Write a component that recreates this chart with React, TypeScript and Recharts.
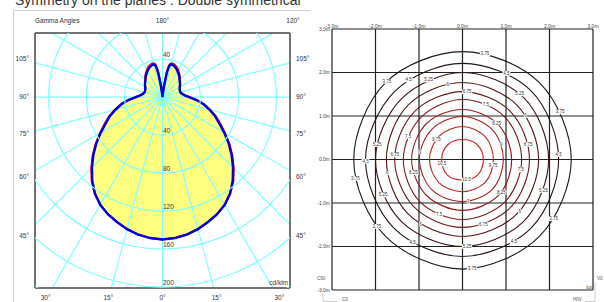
import React from "react";
import {
  ComposedChart, XAxis, YAxis, Area, Line, Scatter, ReferenceDot, ReferenceLine, CartesianGrid,
} from "recharts";

const FONT = "'Liberation Sans', Arial, Helvetica, sans-serif";

// ---- polar intensity diagram, cd/klm ----
const gammaAngles = [0, 5, 10, 15, 20, 25, 30, 35, 40, 45, 50, 55, 60, 65, 70, 75, 80, 85, 90, 95, 100, 105, 110, 115, 120, 125, 130, 135, 140, 145, 150, 155, 160, 163, 166, 168, 170, 172, 175, 180];
const intensityC0 = [150, 149, 147, 144, 140, 136, 131, 124, 115, 105, 95, 85, 75, 66, 59, 51, 44, 36, 28, 23, 20.5, 19.5, 19.5, 20, 21, 22.5, 24, 25.5, 27.5, 29.5, 31.5, 33.5, 35, 35.5, 35, 33, 26, 12, 3, 0];
const intensityC90 = [150, 149, 147, 144, 140, 136, 131, 124, 116, 106, 96, 86, 76, 67.5, 60, 52, 44.5, 36.5, 28, 23, 20.5, 19.5, 19.5, 20, 21, 22.5, 24, 25.5, 28.5, 30.5, 33, 35, 36.5, 37, 36.5, 35, 28, 13, 3, 0];
const ringValues = [40, 80, 120, 160, 200, 240];
const ringLabelValues = [40, -40, -80, -120, -160, -200];
const spokeAngles = [0, 15, 30, 45, 60, 75, 90, 105, 120, 135, 150, 165];
const sideGammaLabels = ["105°", "90°", "75°", "60°", "45°"];
const sideGammaTicks = [40, 0, -39, -84, -146];
const bottomGammaLabels = ["30°", "15°", "0°", "15°", "30°"];
const bottomGammaTicks = [-123, -57, 0, 57, 123];

// ---- isolux diagram, lux; radii in metres (E, NE, N, NW, W, SW, S, SE) ----
const contourLevels = [3.75, 4.5, 5.25, 6, 6.75, 7.5, 8.25, 9, 9.75, 10.5];
const contourRadii = [
  [2.5, 2.5, 2.48, 2.5, 2.5, 2.5, 2.52, 2.5],
  [2.21, 2.23, 2.21, 2.21, 2.23, 2.23, 2.23, 2.23],
  [1.98, 2.0, 2.0, 1.98, 2.0, 2.0, 2.0, 2.0],
  [1.75, 1.77, 1.77, 1.77, 1.75, 1.77, 1.77, 1.77],
  [1.54, 1.56, 1.56, 1.56, 1.56, 1.56, 1.56, 1.56],
  [1.36, 1.38, 1.38, 1.36, 1.36, 1.38, 1.38, 1.38],
  [1.13, 1.15, 1.15, 1.17, 1.17, 1.17, 1.17, 1.17],
  [0.94, 0.97, 0.99, 0.99, 0.99, 0.99, 0.97, 0.97],
  [0.71, 0.74, 0.76, 0.76, 0.76, 0.76, 0.74, 0.74],
  [0.48, 0.48, 0.46, 0.48, 0.48, 0.5, 0.47, 0.5],
];
const contourColors = ["#1a1a1a", "#261414", "#3a1515", "#4e1717", "#651a1a", "#7c1c1c", "#921e1e", "#a82020", "#ba2222", "#cc2424"];
const contourLabelAngles = [
  [78, 134, 26, 190, 218, 327, 275],
  [63, 124, 181, 3, 239, 302],
  [113, 49, 170, 204, 339, 273],
  [101, 35, 190, 318, 237],
  [86, 13, 176, 288],
  [67, 157, 350, 247],
  [47, 195, 320],
  [22, 170, 278],
  [142, 350],
  [192, 281],
];
const meterTicks = [-3, -2, -1, 0, 1, 2, 3];

// layout of the polar plot
const POLAR_X: [number, number] = [-134.2, 134.2];
const POLAR_Y: [number, number] = [-201, 67.4];
const POLAR_PLOT_W = 255;
const PX = POLAR_PLOT_W / (POLAR_X[1] - POLAR_X[0]);
const CYAN = "#80ffff";

const rad = (d: number) => (d * Math.PI) / 180;

function polarLoop(values: number[]) {
  const side = (s: number) =>
    gammaAngles.map((g, i) => ({ x: s * values[i] * Math.sin(rad(g)), y: -values[i] * Math.cos(rad(g)) }));
  return [...side(-1).reverse(), ...side(1).slice(1)];
}

function radiusAt(rs: number[], a: number) {
  const t = (((a % 360) + 360) % 360) / 45;
  const k = Math.floor(t);
  const f = t - k;
  return rs[k % 8] * (1 - f) + rs[(k + 1) % 8] * f;
}

// closed Catmull-Rom curve for the isolux rings
const closedCurve = (context: any) => {
  let pts: number[][] = [];
  return {
    areaStart() {},
    areaEnd() {},
    lineStart() { pts = []; },
    point(x: number, y: number) { pts.push([+x, +y]); },
    lineEnd() {
      const n = pts.length;
      if (!n) return;
      context.moveTo(pts[0][0], pts[0][1]);
      for (let i = 0; i < n; i++) {
        const p0 = pts[(i - 1 + n) % n], p1 = pts[i], p2 = pts[(i + 1) % n], p3 = pts[(i + 2) % n];
        context.bezierCurveTo(
          p1[0] + (p2[0] - p0[0]) / 6, p1[1] + (p2[1] - p0[1]) / 6,
          p2[0] - (p3[0] - p1[0]) / 6, p2[1] - (p3[1] - p1[1]) / 6,
          p2[0], p2[1],
        );
      }
      context.closePath();
    },
  };
};

const loopC0 = polarLoop(intensityC0);
const loopC90 = polarLoop(intensityC90);
const ringLabelData = ringLabelValues.map(v => ({ x: 0, y: v, t: String(Math.abs(v)) }));

const contourData = contourRadii.map(rs =>
  rs.map((r, k) => ({ x: r * Math.cos(rad(k * 45)), y: r * Math.sin(rad(k * 45)) })));
const contourLabelData = contourLabelAngles.flatMap((angles, i) =>
  angles.map(a => {
    const r = radiusAt(contourRadii[i], a);
    return { x: r * Math.cos(rad(a)), y: r * Math.sin(rad(a)), t: String(contourLevels[i]) };
  }));

const tickStyle = { fontSize: 6.5, fill: "#333", fontFamily: FONT };
const tinyTick = { fontSize: 5, fill: "#444", fontFamily: FONT };
const boxLine = { stroke: "#444", strokeWidth: 1.5 };

const RingLabel = (p: any) => (
  <text x={p.cx + 0.5} y={p.cy - 2} fontSize={6.5} fill="#333" fontFamily={FONT}>{p.payload.t}</text>
);

const ContourLabel = (p: any) => {
  const t = String(p.payload.t);
  const w = t.length * 2.3 + 1;
  return (
    <g>
      <rect x={p.cx - w / 2} y={p.cy - 2.4} width={w} height={4.8} fill="#fff" />
      <text x={p.cx} y={p.cy + 1.6} textAnchor="middle" fontSize={4.5} fill="#333" fontFamily={FONT}>{t}</text>
    </g>
  );
};

const fmtM = (v: number) => `${v.toFixed(1)}m`;

function PolarChart() {
  return (
    <ComposedChart width={320} height={302} margin={{ top: 13, right: 0, bottom: 0, left: 5 }}>
      <XAxis
        dataKey="x" type="number" domain={POLAR_X} allowDataOverflow
        ticks={bottomGammaTicks} interval={0} height={14} tickSize={5} tickMargin={2}
        tickLine={false} axisLine={boxLine} tick={tickStyle}
        tickFormatter={(v: number) => bottomGammaLabels[bottomGammaTicks.indexOf(v)]}
      />
      <XAxis
        xAxisId="top" orientation="top" dataKey="x" type="number" domain={POLAR_X} allowDataOverflow
        ticks={[0]} interval={0} height={20} tickSize={8} tickMargin={2}
        tickLine={false} axisLine={boxLine} tick={tickStyle} tickFormatter={() => "180°"}
      />
      <YAxis
        type="number" domain={POLAR_Y} allowDataOverflow ticks={sideGammaTicks} interval={0}
        width={30} tickSize={4} tickMargin={2} tickLine={false} axisLine={boxLine} tick={tickStyle}
        tickFormatter={(v: number) => sideGammaLabels[sideGammaTicks.indexOf(v)]}
      />
      <YAxis
        yAxisId="right" orientation="right" type="number" domain={POLAR_Y} allowDataOverflow
        ticks={sideGammaTicks} interval={0} width={30} tickSize={4} tickMargin={2}
        tickLine={false} axisLine={boxLine} tick={{ ...tickStyle, textAnchor: "start" }}
        tickFormatter={(v: number) => sideGammaLabels[sideGammaTicks.indexOf(v)]}
      />
      <Area
        data={loopC0} dataKey="y" type="linear" baseValue={0} fill="#ffff80" fillOpacity={1}
        stroke="none" isAnimationActive={false}
      />
      {ringValues.map(v => (
        <ReferenceDot key={`r${v}`} x={0} y={0} r={v * PX} fill="none" stroke={CYAN} strokeWidth={1.2} ifOverflow="hidden" />
      ))}
      {spokeAngles.map(a => (
        <ReferenceLine
          key={`s${a}`} ifOverflow="hidden" stroke={CYAN} strokeWidth={1.2}
          segment={[
            { x: -400 * Math.sin(rad(a)), y: 400 * Math.cos(rad(a)) },
            { x: 400 * Math.sin(rad(a)), y: -400 * Math.cos(rad(a)) },
          ]}
        />
      ))}
      <Line data={loopC90} dataKey="y" type="linear" stroke="#e00000" strokeWidth={2} dot={false} isAnimationActive={false} />
      <Line data={loopC0} dataKey="y" type="linear" stroke="#0000e0" strokeWidth={2.4} dot={false} isAnimationActive={false} />
      <Scatter data={ringLabelData} dataKey="y" shape={RingLabel} isAnimationActive={false} />
    </ComposedChart>
  );
}

function IsoluxChart() {
  return (
    <ComposedChart width={304} height={302} margin={{ top: 11, right: 11, bottom: 12, left: 10 }}>
      <CartesianGrid stroke="#222" strokeWidth={1.2} fill="none" />
      <XAxis
        dataKey="x" type="number" orientation="top" domain={[-3, 3]} allowDataOverflow ticks={meterTicks}
        interval={0} height={18} tickSize={0} tickMargin={1} axisLine={false} tickLine={false}
        tick={tinyTick} tickFormatter={fmtM}
      />
      <YAxis
        type="number" domain={[-3, 3]} allowDataOverflow ticks={meterTicks} interval={0} width={22}
        tickSize={0} tickMargin={2} axisLine={false} tickLine={false} tick={tinyTick} tickFormatter={fmtM}
      />
      {contourData.map((pts, i) => (
        <Line
          key={contourLevels[i]} data={pts} dataKey="y" type={closedCurve as any}
          stroke={contourColors[i]} strokeWidth={1.1} dot={false} isAnimationActive={false}
        />
      ))}
      <Scatter data={contourLabelData} dataKey="y" shape={ContourLabel} isAnimationActive={false} />
    </ComposedChart>
  );
}

export default function App() {
  return (
    <div style={{ position: "absolute", left: 0, top: 0, width: 604, height: 302, background: "#fff", overflow: "hidden", fontFamily: FONT }}>
      <div style={{ position: "absolute", left: 0, top: 0 }}>
        <PolarChart />
      </div>
      <div style={{ position: "absolute", left: 300, top: 0 }}>
        <IsoluxChart />
      </div>
      <svg width={604} height={302} style={{ position: "absolute", left: 0, top: 0, pointerEvents: "none" }}>
        <text x={15} y={5} fontSize={14} fill="#333" fontFamily={FONT}>Symmetry on the planes : Double symmetrical</text>
        <line x1={13} y1={10.5} x2={311} y2={10.5} stroke="#cfcfcf" />
        <line x1={13.5} y1={10.5} x2={13.5} y2={302} stroke="#cfcfcf" />
        <text x={35} y={22.5} fontSize={6.5} fill="#333" fontFamily={FONT}>Gamma Angles</text>
        <text x={293} y={22.5} fontSize={6.5} fill="#333" fontFamily={FONT} textAnchor="middle">120°</text>
        <text x={288} y={284.5} fontSize={6.5} fill="#333" fontFamily={FONT} textAnchor="end">cd/klm</text>
        <text x={592} y={288.5} fontSize={4.5} fill="#444" fontFamily={FONT} textAnchor="end">lux</text>
        <text x={317} y={280} fontSize={4.5} fill="#555" fontFamily={FONT}>C90</text>
        <text x={597} y={280} fontSize={4.5} fill="#555" fontFamily={FONT}>V0</text>
        <text x={342} y={301} fontSize={4.5} fill="#555" fontFamily={FONT}>C0</text>
        <text x={573} y={301} fontSize={4.5} fill="#555" fontFamily={FONT}>H0V.</text>
        <polyline points="323,293 323,301.5 337,301.5" fill="none" stroke="#cfcfcf" />
        <polyline points="585,301.5 595,301.5 595,283" fill="none" stroke="#cfcfcf" />
      </svg>
    </div>
  );
}
